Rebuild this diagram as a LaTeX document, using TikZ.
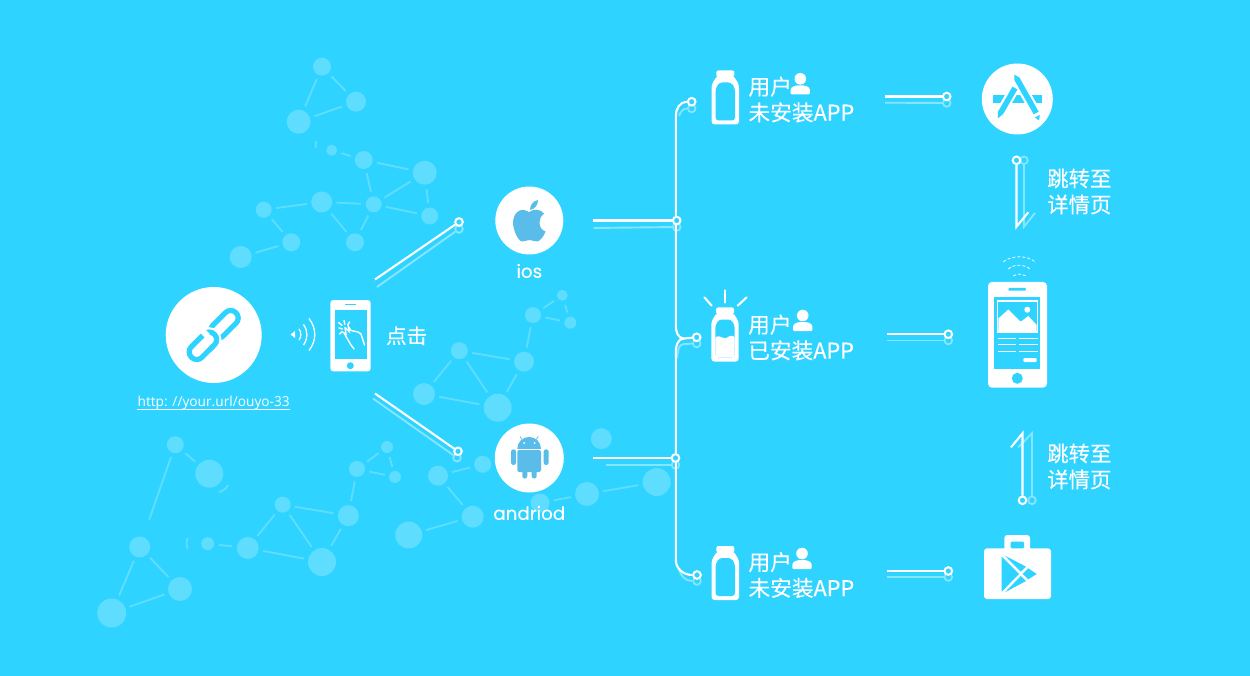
\documentclass[tikz,border=0pt]{standalone}
\usepackage{fontspec}
\setmainfont{Noto Sans CJK SC}
\newfontfamily\heavyfont[FakeBold=0.2]{Noto Sans CJK SC}
\newfontfamily\latinfont[FakeBold=0.15]{Poppins}
\newfontfamily\urlfont{Open Sans}
\usepackage{xcolor}
\definecolor{SkyBack}{HTML}{2ED3FF}
\definecolor{WebDot}{HTML}{5EDDFF}
\definecolor{GhostLine}{HTML}{86E5FF}
\definecolor{IconBlue}{HTML}{5ABDE9}
\usetikzlibrary{positioning,calc}

\begin{document}
\begin{tikzpicture}[x=1pt,y=-1pt,
webdot/.style={circle,fill=WebDot,inner sep=0pt,outer sep=4.5pt,minimum size=#1},
webline/.style={draw=WebDot,line width=1.9pt},
wire/.style={draw=white,line width=2.1pt},
ghost/.style={draw=GhostLine,line width=1.9pt},
ring/.style={circle,draw=white,line width=2pt,fill=SkyBack,inner sep=0pt,minimum size=7.6pt},
ghostring/.style={circle,draw=GhostLine,line width=1.8pt,inner sep=0pt,minimum size=7.6pt},
badge/.style={circle,fill=white,inner sep=0pt,minimum size=#1},
handset/.style={rectangle,fill=white,rounded corners=3pt,inner sep=0pt},
usertext/.style={inner sep=0pt,anchor=west,align=left,text=white,font=\heavyfont\fontsize{21.7}{25.8}\selectfont},
jumptext/.style={inner sep=0pt,align=left,text=white,font=\heavyfont\fontsize{21.4}{26}\selectfont},
ostext/.style={inner sep=0pt,text=white,font=\latinfont\fontsize{18.3}{22}\selectfont},
bottle/.pic={
\fill[white,rounded corners=2pt] (-9,-27) rectangle (9,-20.5);
\fill[white,rounded corners=3pt] (-8,-22)--(8,-22)--(13.7,-13)--(13.7,27)--(-13.7,27)--(-13.7,-13)--cycle;
\fill[SkyBack,rounded corners=3pt] (-6,-15)--(6,-15)--(9.7,-9)--(9.7,23)--(-9.7,23)--(-9.7,-9)--cycle;
},
person/.pic={
\fill[white] (0,-5.5) circle (5.8);
\fill[white,rounded corners=1pt] (-9.6,10)--(-9.6,6.5) .. controls (-9.6,2.5) and (-5,1) .. (0,1) .. controls (5,1) and (9.6,2.5) .. (9.6,6.5)--(9.6,10)--cycle;
}]
\useasboundingbox (0,0) rectangle (1250,676);
\fill[SkyBack] (0,0) rectangle (1250,676);

\foreach \nm/\x/\y/\d in {a1/322/66.7/18,a2/356/101.7/20,a3/298.7/121.7/24,
b1/331.7/150.3/11,b2/363.7/160/18,b3/424.7/172.7/24,b4/373.7/204.3/16,b5/321.7/202/21,b6/263.7/209.7/16,b7/291.3/242.3/18,b8/240.7/257/22,b9/355/242.3/18,b10/429.7/216/17,
c1/562.3/295.3/11,c2/533/315/16,c3/570.3/322.7/12,c4/524/361.7/20,c5/459.3/350.7/17,c6/497.7/407.7/28,c7/424/394/22,
d1/601.3/438.7/21,d2/656.7/482/28,d3/587/494/24,d4/540/503/19,d5/482.7/464.3/17,d6/438/475.7/20,d7/472.7/516.7/22,d8/408.7/535/27,
e1/175.3/444.7/17,e2/209.3/473.7/28,e3/139.7/547/21,e4/180/589/24,e5/111.7/613/29,e6/207.7/543.7/13,e7/247.7/548/22,e8/282.7/504.7/16,e9/322/562/28,e10/348.3/515.7/21,e11/357/469/16,e12/387/447/12,e13/395/477/12}
\node[webdot=\d] (\nm) at (\x,\y) {};
\foreach \p/\q in {a1/a2,a1/a3,a2/a3,b1/b2,b2/b3,b2/b4,b3/b4,b3/b10,b4/b10,b4/b5,b4/b9,b5/b9,b5/b6,b6/b7,b7/b8,
c1/c2,c1/c3,c2/c3,c2/c4,c4/c5,c4/c6,c5/c6,c5/c7,c6/c7,d2/d3,d3/d4,d5/d6,d6/d7,d7/d8,
e1/e2,e3/e4,e3/e5,e4/e5,e6/e7,e7/e8,e7/e9,e8/e9,e8/e10,e9/e10,e10/e11,e11/e12,e11/e13,e12/e13}
\draw[webline] (\p) -- (\q);
\draw[webline,shorten >=14pt] (e1) -- (e3);
\draw[webline] (316.5,141) to[bend right=20] (316,148);
\draw[webline] (219,492) to[bend right=25] (228,485);
\draw[webline] (187.5,538) to[bend right=15] (187.5,549);

\node[badge=96pt] (link) at (213.7,335) {};
\begin{scope}[shift={(link.center)},rotate=45,line width=5.2pt]
\draw[SkyBack,rounded corners=7.4pt] (-1,-7.5) rectangle (31.5,7.5);
\draw[white,line width=9.5pt,rounded corners=7.4pt] (-31.5,-7.5) rectangle (1,7.5);
\draw[SkyBack,rounded corners=7.4pt] (-31.5,-7.5) rectangle (1,7.5);
\draw[white,line width=8pt] (-8,-7.5) -- (-2,-7.5);
\draw[SkyBack] (-14,7.5) -- (-8,7.5);
\end{scope}
\node[inner sep=0pt,text=white,font=\urlfont\fontsize{13.7}{16}\selectfont,below=12.5pt of link] (url) {http: //your.url/ouyo-33};
\draw[white,line width=.8pt] (url.south west) -- (url.south east);

\fill[white] (290.5,334.5) -- (295,331) -- (295,338) -- cycle;
\draw[white,line width=1.3pt] (299,329) to[bend left=35] (299,340);
\draw[white,line width=1.3pt] (303.5,324.5) to[bend left=35] (303.5,345);
\draw[white,line width=1.3pt] (309,318.5) to[bend left=38] (309,350.5);

\node[handset,minimum width=40.4pt,minimum height=71.3pt] (clickphone) at (350.5,335.7) {};
\fill[SkyBack] (334.7,310) rectangle (366.7,359.3);
\fill[SkyBack] (350.3,365.7) circle (3.5);
\fill[SkyBack] (345,303.6) rectangle (356,305);
\draw[white,line width=1.4pt,line cap=round] (345,327.5) -- (349,331.5) -- (348.3,326.5) -- (351,330.5) -- (358,332) -- (361,334) -- (364.5,345);
\draw[white,line width=1.4pt,line cap=round] (345,327.5) -- (346,334) -- (344,333) -- (351,345) -- (354,349);
\draw[white,line width=1.4pt,line cap=round] (339,328) -- (342.5,329) (344,320.5) -- (344.8,324.3) (338.5,322.5) -- (342,325.3) (349.5,322) -- (347.8,325) (339.5,334) -- (342.5,331.5);
\node[inner sep=0pt,text=white,font=\heavyfont\fontsize{20.5}{24}\selectfont,right=15pt of clickphone] (clicktext) {点击};

\node[badge=68pt] (ios) at (529.3,220.5) {};
\fill[IconBlue] (529,212) .. controls (524,208) and (514,209) .. (513,222) .. controls (513,230) and (518,241) .. (522,241.5) .. controls (525,241.5) and (527,240) .. (529.5,240) .. controls (532,240) and (534,241.5) .. (537,241.5) .. controls (540,241.5) and (544,236) .. (545.5,231.5) .. controls (541,230) and (539.5,226) .. (539.5,222.5) .. controls (539.5,219) and (541,216) .. (544,213.5) .. controls (540,208.5) and (533,209) .. (529,212) -- cycle;
\fill[IconBlue] (530,210) .. controls (530,205) and (533,201) .. (538,200) .. controls (538,205) and (535,209) .. (530,210) -- cycle;
\node[ostext,below=9pt of ios] (iostext) {ios};

\node[badge=69pt] (droid) at (529.3,458) {};
\fill[IconBlue] (517.3,448.8) arc[start angle=180,end angle=360,radius=11.85] -- cycle;
\fill[IconBlue,rounded corners=2pt] (517.3,450) rectangle (541,472);
\fill[IconBlue,rounded corners=2.4pt] (511,449.3) rectangle (516,465);
\fill[IconBlue,rounded corners=2.4pt] (543.7,449.3) rectangle (548.7,465);
\fill[IconBlue,rounded corners=2.4pt] (522.3,468) rectangle (527.3,478.5);
\fill[IconBlue,rounded corners=2.4pt] (531.7,468) rectangle (536.7,478.5);
\draw[IconBlue,line width=.8pt] (522,439.5) -- (520,436.5) (536.3,439.5) -- (538.3,436.5);
\fill[white] (524,443) circle (1) (534.5,443) circle (1);
\node[ostext,below=13pt of droid] (droidtext) {andriod};

\coordinate (iosfrom) at (375,279.5);
\coordinate (droidfrom) at (375,393.5);
\coordinate (iosghost) at (377,287);
\coordinate (droidghost) at (373,398.5);
\foreach \nm/\x/\y in {rup/459/229,rdn/457/457.7,rios/676.7/227,rdroid/675.5/465,rtop/691.7/108.5,rmid/696.7/343.5,rbot/697/581,rappa/946.7/103,rphone/948.3/340.5,rplay/948.3/577,rjumpa/1024/160.3,rjumpb/1032/500.3}
\node[ghostring] (\nm) at (\x,\y) {};
\draw[ghost] (iosghost) -- (rup);
\draw[ghost] (droidghost) -- (rdn);
\draw[ghost] (593.5,228) -- (rios);
\draw[ghost] (606,465) -- (rdroid);
\draw[ghost] (885,102.7) -- (rappa);
\draw[ghost] (887.3,340.5) -- (rphone);
\draw[ghost] (887.3,577) -- (rplay);
\draw[ghost] (rtop) to[out=180,in=70] (679,116);
\draw[ghost] (rmid) -- (684,344) to[out=180,in=80] (677,358);
\draw[ghost] (rbot) to[out=180,in=-70] (679,570);
\draw[ghost] (rjumpa) -- (1024,226.7) -- (1035,213);
\draw[ghost] (rjumpb) -- (1032,433.3) -- (1018.3,447.3);

\node[ring] (top) at (691.7,101.7) {};
\node[ring] (mid) at (696.7,337.3) {};
\node[ring] (bot) at (697,575) {};
\coordinate (busa) at (675.8,116);
\coordinate (busb) at (675.8,326);
\coordinate (busc) at (675.8,352);
\coordinate (busd) at (675.8,560);
\draw[wire] (top) to[out=180,in=90] (busa) -- (busb) to[out=-90,in=180] (684,338.5) -- (mid);
\draw[wire] (684,338.5) to[out=180,in=90] (busc) -- (busd) to[out=-90,in=180] (bot);
\node[ring] (busios) at (676.7,220.5) {};
\node[ring] (busdroid) at (675.5,458) {};
\node[ring] (iosup) at (459,222) {};
\node[ring] (droiddn) at (458,451.3) {};
\draw[wire] (iosfrom) -- (iosup);
\draw[wire] (droidfrom) -- (droiddn);
\draw[wire,shorten <=29pt] (ios) -- (busios);
\draw[wire,shorten <=29pt] (droid) -- (busdroid);

\coordinate (bottlea) at (725.3,97.5);
\coordinate (bottleb) at (725,334.5);
\coordinate (bottlec) at (725.3,573);
\pic at (bottlea) {bottle};
\pic at (bottleb) {bottle};
\pic at (bottlec) {bottle};
\fill[white,rounded corners=1pt] (715.3,337) .. controls (720,335) and (724,340) .. (728,337) .. controls (731,335) and (733,336) .. (734.7,337) -- (734.7,357.5) -- (715.3,357.5) -- cycle;
\draw[wire,line cap=round] (724.7,290.5) -- (724.7,302.7);
\draw[wire,line cap=round] (704.3,297.3) -- (711.7,305.7);
\draw[wire,line cap=round] (746.7,297.3) -- (737.7,305.7);
\node[usertext,right=23pt of bottlea,yshift=-2pt] (usera) {用户\\未安装APP};
\node[usertext,right=23pt of bottleb,yshift=-3pt] (userb) {用户\\已安装APP};
\node[usertext,right=23pt of bottlec,yshift=-2pt] (userc) {用户\\未安装APP};
\pic at (800.3,84.3) {person};
\pic at (802.7,321) {person};
\pic at (802,559) {person};

\node[ring] (rapp) at (946.7,96.5) {};
\node[ring] (rdetail) at (948.3,334.2) {};
\node[ring] (rgoogle) at (948.3,571) {};
\coordinate (froma) at (885,96.5);
\coordinate (fromb) at (887.3,334.2);
\coordinate (fromc) at (887.3,571);
\draw[wire] (froma) -- (rapp);
\draw[wire] (fromb) -- (rdetail);
\draw[wire] (fromc) -- (rgoogle);

\node[badge=71pt] (appstore) at (1017.3,99) {};
\fill[SkyBack] (993,95) rectangle (1041.7,102.7);
\draw[white,line width=10pt] (1016,86) -- (999.5,114.5);
\draw[white,line width=10pt] (1017,79) -- (1037,114.5);
\draw[SkyBack,line width=5.6pt] (1015,88) -- (1000.5,113);
\draw[SkyBack,line width=5.6pt] (1017,79) -- (1036.2,113);
\fill[SkyBack] (1014.2,74.5) -- (1019.6,77.7) -- (1014.5,80.6) -- cycle;
\fill[SkyBack] (1035,117.5) -- (1039.8,114.8) -- (1039,120.5) -- cycle;
\fill[SkyBack] (998,111.2) -- (1003,114) -- (997.8,118.5) -- cycle;

\node[ring] (jumpa) at (1016.5,160.3) {};
\node[ring] (jumpb) at (1022.5,500.3) {};
\coordinate (jumpatip) at (1016.5,226.7);
\coordinate (jumpbtip) at (1022.5,433.3);
\draw[wire] (jumpa) -- (jumpatip) -- (1028.3,212.3);
\draw[wire] (jumpb) -- (jumpbtip) -- (1011,447.3);
\node[jumptext] (jumptexta) at (1079.3,191.5) {跳转至\\详情页};
\node[jumptext] (jumptextb) at (1079.3,466.5) {跳转至\\详情页};

\node[handset,rounded corners=4pt,minimum width=59pt,minimum height=105.7pt] (detailphone) at (1017.5,334.8) {};
\fill[SkyBack] (994,297) rectangle (1040.3,369.3);
\fill[SkyBack,rounded corners=1pt] (1008.3,288) rectangle (1026,290.6);
\fill[SkyBack] (1017.3,378.3) circle (5.5);
\fill[white] (996.7,300) rectangle (1038.3,332.7);
\fill[SkyBack] (998.3,301.7) rectangle (1036.7,331);
\fill[white] (998.3,318.5) -- (1008.3,309.5) -- (1020.7,321.7) -- (1028.3,316) -- (1036.7,325) -- (1036.7,332) -- (998.3,332) -- cycle;
\fill[white] (1027.3,309.7) circle (3);
\foreach \y in {338.3,344.3,351} {\draw[white,line width=.9pt] (997.7,\y) -- (1016,\y) (1018.7,\y) -- (1037.7,\y);}
\fill[white,rounded corners=1pt] (1023.3,358) rectangle (1036.7,362);
\draw[white,line width=.8pt,dashed,dash pattern=on 3pt off 2pt] (1003.3,261.7) .. controls (1012,255) and (1028,255) .. (1036,262.7);
\draw[white,line width=.8pt,dashed,dash pattern=on 3pt off 2pt] (1008.3,269) .. controls (1014,264) and (1024,264) .. (1030,269);
\draw[white,line width=.8pt,dashed,dash pattern=on 3pt off 2pt] (1013.3,276) .. controls (1017,273.5) and (1022,273.5) .. (1025.7,276);

\node[handset,minimum width=67pt,minimum height=50.7pt] (playbag) at (1017.5,573.7) {};
\fill[white,rounded corners=3pt] (1004.3,535) rectangle (1030,552);
\fill[SkyBack,rounded corners=1pt] (1010.7,541.7) rectangle (1024,548.3);
\fill[SkyBack] (1001.7,556.7) -- (1019,574) -- (1001.7,591.7) -- cycle;
\fill[SkyBack] (1005,555.7) -- (1026,566.7) -- (1020.7,571.7) -- cycle;
\fill[SkyBack] (1028.3,568.3) -- (1036.7,574) -- (1028.3,579.3) -- (1022.7,574) -- cycle;
\fill[SkyBack] (1005,592.3) -- (1020.7,576) -- (1026,581) -- cycle;
\end{tikzpicture}
\end{document}
